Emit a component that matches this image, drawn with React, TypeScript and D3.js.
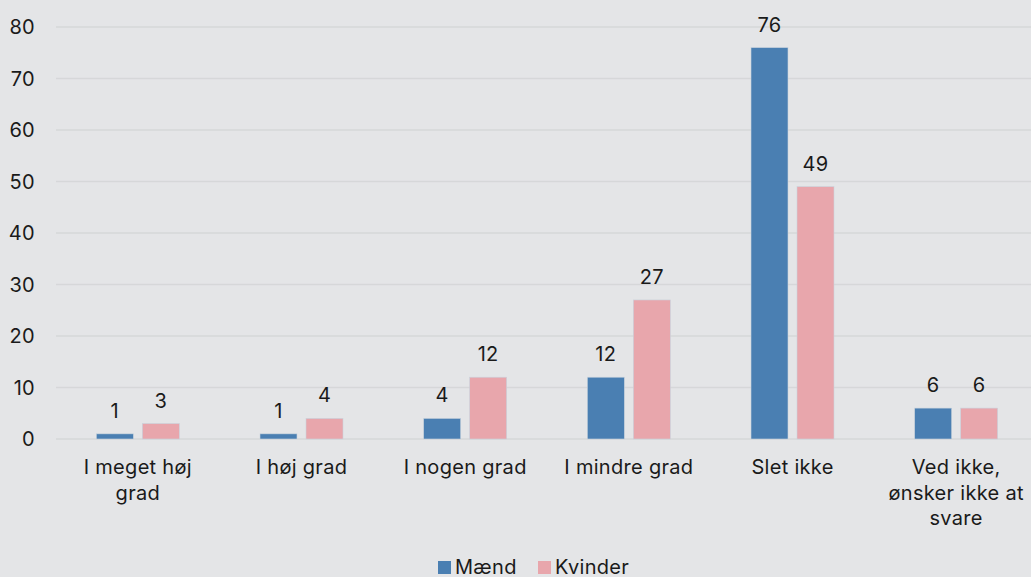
import React from "react";
import * as d3 from "d3";

const categories = [
  ["I meget høj", "grad"],
  ["I høj grad"],
  ["I nogen grad"],
  ["I mindre grad"],
  ["Slet ikke"],
  ["Ved ikke,", "ønsker ikke at", "svare"],
];
const maend = [1, 1, 4, 12, 76, 6];
const kvinder = [3, 4, 12, 27, 49, 6];
const yTicks = [0, 10, 20, 30, 40, 50, 60, 70, 80];
const seriesNames = ["Mænd", "Kvinder"];
const colors = ["#4a7fb2", "#e8a6ac"];

export default function App() {
  const W = 1031, H = 577;
  const x = d3.scaleBand<number>().domain(d3.range(categories.length)).range([56, 1038]).paddingInner(0).paddingOuter(0);
  const y = d3.scaleLinear().domain([0, 80]).range([439, 27]);
  const bw = 37, gap = 9;
  const font = "Inter, 'Noto Sans', sans-serif";
  const fs = 20;
  const ls = 0.3;
  const series = [maend, kvinder];
  return (
    <svg width={W} height={H} style={{ position: "absolute", left: 0, top: 0, display: "block" }}>
      <rect width={W} height={H} fill="#e4e5e7" />
      {yTicks.map((t) => (
        <g key={t}>
          <line x1={56} x2={W} y1={y(t)} y2={y(t)} stroke="#d6d7d9" strokeWidth={1.5} />
          <text x={35} y={y(t)} dy="0.36em" textAnchor="end" fontFamily={font} fontSize={fs} letterSpacing={ls} fill="#1a1a1a">{t}</text>
        </g>
      ))}
      {categories.map((c, i) => {
        const cx = x(i)! + x.bandwidth() / 2;
        return (
          <g key={i}>
            {series.map((s, j) => {
              const bx = j === 0 ? cx - gap / 2 - bw : cx + gap / 2;
              return (
                <g key={j}>
                  <rect x={bx} y={y(s[i])} width={bw} height={y(0) - y(s[i])} fill={colors[j]} stroke="#c9d3dd" strokeWidth={0.6} />
                  <text x={bx + bw / 2} y={y(s[i]) - 16} textAnchor="middle" fontFamily={font} fontSize={fs} letterSpacing={ls} fill="#1a1a1a">{s[i]}</text>
                </g>
              );
            })}
            {c.map((line, k) => (
              <text key={k} x={cx} y={474 + k * 25.5} textAnchor="middle" fontFamily={font} fontSize={fs} letterSpacing={ls} fill="#1a1a1a">{line}</text>
            ))}
          </g>
        );
      })}
      <g>
        <rect x={438} y={561} width={13} height={13} fill={colors[0]} />
        <text x={455} y={574} fontFamily={font} fontSize={fs} letterSpacing={ls} fill="#1a1a1a">{seriesNames[0]}</text>
        <rect x={538} y={561} width={13} height={13} fill={colors[1]} />
        <text x={555} y={574} fontFamily={font} fontSize={fs} letterSpacing={ls} fill="#1a1a1a">{seriesNames[1]}</text>
      </g>
    </svg>
  );
}
